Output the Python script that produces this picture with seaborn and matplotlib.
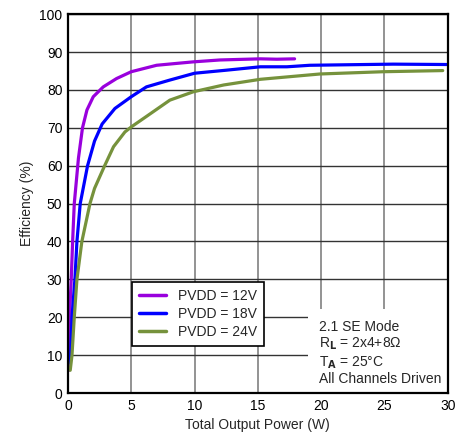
import pandas as pd
import matplotlib
matplotlib.use('Agg')
import matplotlib.pyplot as plt
import seaborn as sns

# --- data ---
p_12v = [0.08, 0.12, 0.26, 0.37, 0.5, 0.83, 1.15, 1.5, 2.0, 2.79, 3.84, 5.0, 7.0, 8.6, 9.9, 12.0, 15.2, 16.5, 17.9]
eff_12v = [6.0, 20.0, 30.0, 40.0, 50.0, 62.0, 70.0, 74.7, 78.2, 80.8, 83.0, 84.8, 86.5, 87.0, 87.4, 87.9, 88.2, 88.1, 88.2]

p_18v = [0.1, 0.21, 0.32, 0.55, 0.71, 0.97, 1.55, 2.1, 2.7, 3.71, 5.0, 6.2, 8.05, 10.0, 12.5, 15.2, 17.3, 19.1, 25.7, 29.9]
eff_18v = [8.0, 10.0, 20.0, 30.0, 40.0, 50.0, 60.0, 66.5, 71.0, 75.1, 78.2, 80.8, 82.6, 84.4, 85.2, 86.1, 86.1, 86.5, 86.8, 86.7]

p_24v = [0.18, 0.32, 0.5, 0.71, 1.1, 1.74, 2.1, 2.9, 3.6, 4.5, 5.03, 6.2, 8.05, 9.9, 12.3, 15.2, 19.9, 24.9, 29.6]
eff_24v = [6.0, 10.0, 20.0, 30.0, 40.0, 50.0, 54.0, 60.0, 65.0, 68.9, 70.3, 73.0, 77.3, 79.5, 81.3, 82.8, 84.2, 84.8, 85.1]

series_names = ['PVDD = 12V', 'PVDD = 18V', 'PVDD = 24V']
series_colors = ['#9900DD', '#0000FF', '#76923C']

df = pd.concat([
    pd.DataFrame({'power': p_12v, 'eff': eff_12v, 'supply': series_names[0]}),
    pd.DataFrame({'power': p_18v, 'eff': eff_18v, 'supply': series_names[1]}),
    pd.DataFrame({'power': p_24v, 'eff': eff_24v, 'supply': series_names[2]}),
], ignore_index=True)

sns.set_style("white")
plt.rcParams['font.family'] = ['Liberation Sans', 'DejaVu Sans']
plt.rcParams['font.size'] = 10

fig = plt.figure(figsize=(4.56, 4.36), dpi=100)
ax = fig.add_axes([0.149, 0.0986, 0.833, 0.869])

sns.lineplot(data=df, x='power', y='eff', hue='supply', palette=series_colors,
             sort=False, estimator=None, linewidth=2.3, ax=ax)

ax.set_xlim(0, 30)
ax.set_ylim(0, 100)
ax.set_xticks(range(0, 31, 5))
ax.set_yticks(range(0, 101, 10))
ax.xaxis.grid(True, color='#8a8a8a', linewidth=1.3)
ax.yaxis.grid(True, color='#333333', linewidth=1.0)
ax.set_axisbelow(True)
for s in ax.spines.values():
    s.set_color('black')
    s.set_linewidth(1.6)
ax.tick_params(axis='both', length=0, labelsize=10, colors='black', pad=4)
ax.set_xlabel('Total Output Power (W)', fontsize=10)
ax.set_ylabel('Efficiency (%)', fontsize=10)

leg = ax.legend(loc='lower left', bbox_to_anchor=(0.168, 0.124), borderaxespad=0,
                fontsize=10, frameon=True, fancybox=False, framealpha=1,
                edgecolor='black', handlelength=2.0, borderpad=0.5, labelspacing=0.3)
leg.get_frame().set_linewidth(1.2)
for ln in leg.get_lines():
    ln.set_linewidth(2.5)

# conditions note, white box hides the grid behind it
ax.text(0.66, 0.018,
        '2.1 SE Mode\nR$_\\mathbf{L}$ = 2x4+8\u03a9\nT$_\\mathbf{A}$ = 25\u00b0C\nAll Channels Driven',
        transform=ax.transAxes, fontsize=10, va='bottom', ha='left', linespacing=1.15,
        zorder=2.2, bbox=dict(facecolor='white', edgecolor='none', pad=8))

fig.savefig('out.png', dpi=100)
